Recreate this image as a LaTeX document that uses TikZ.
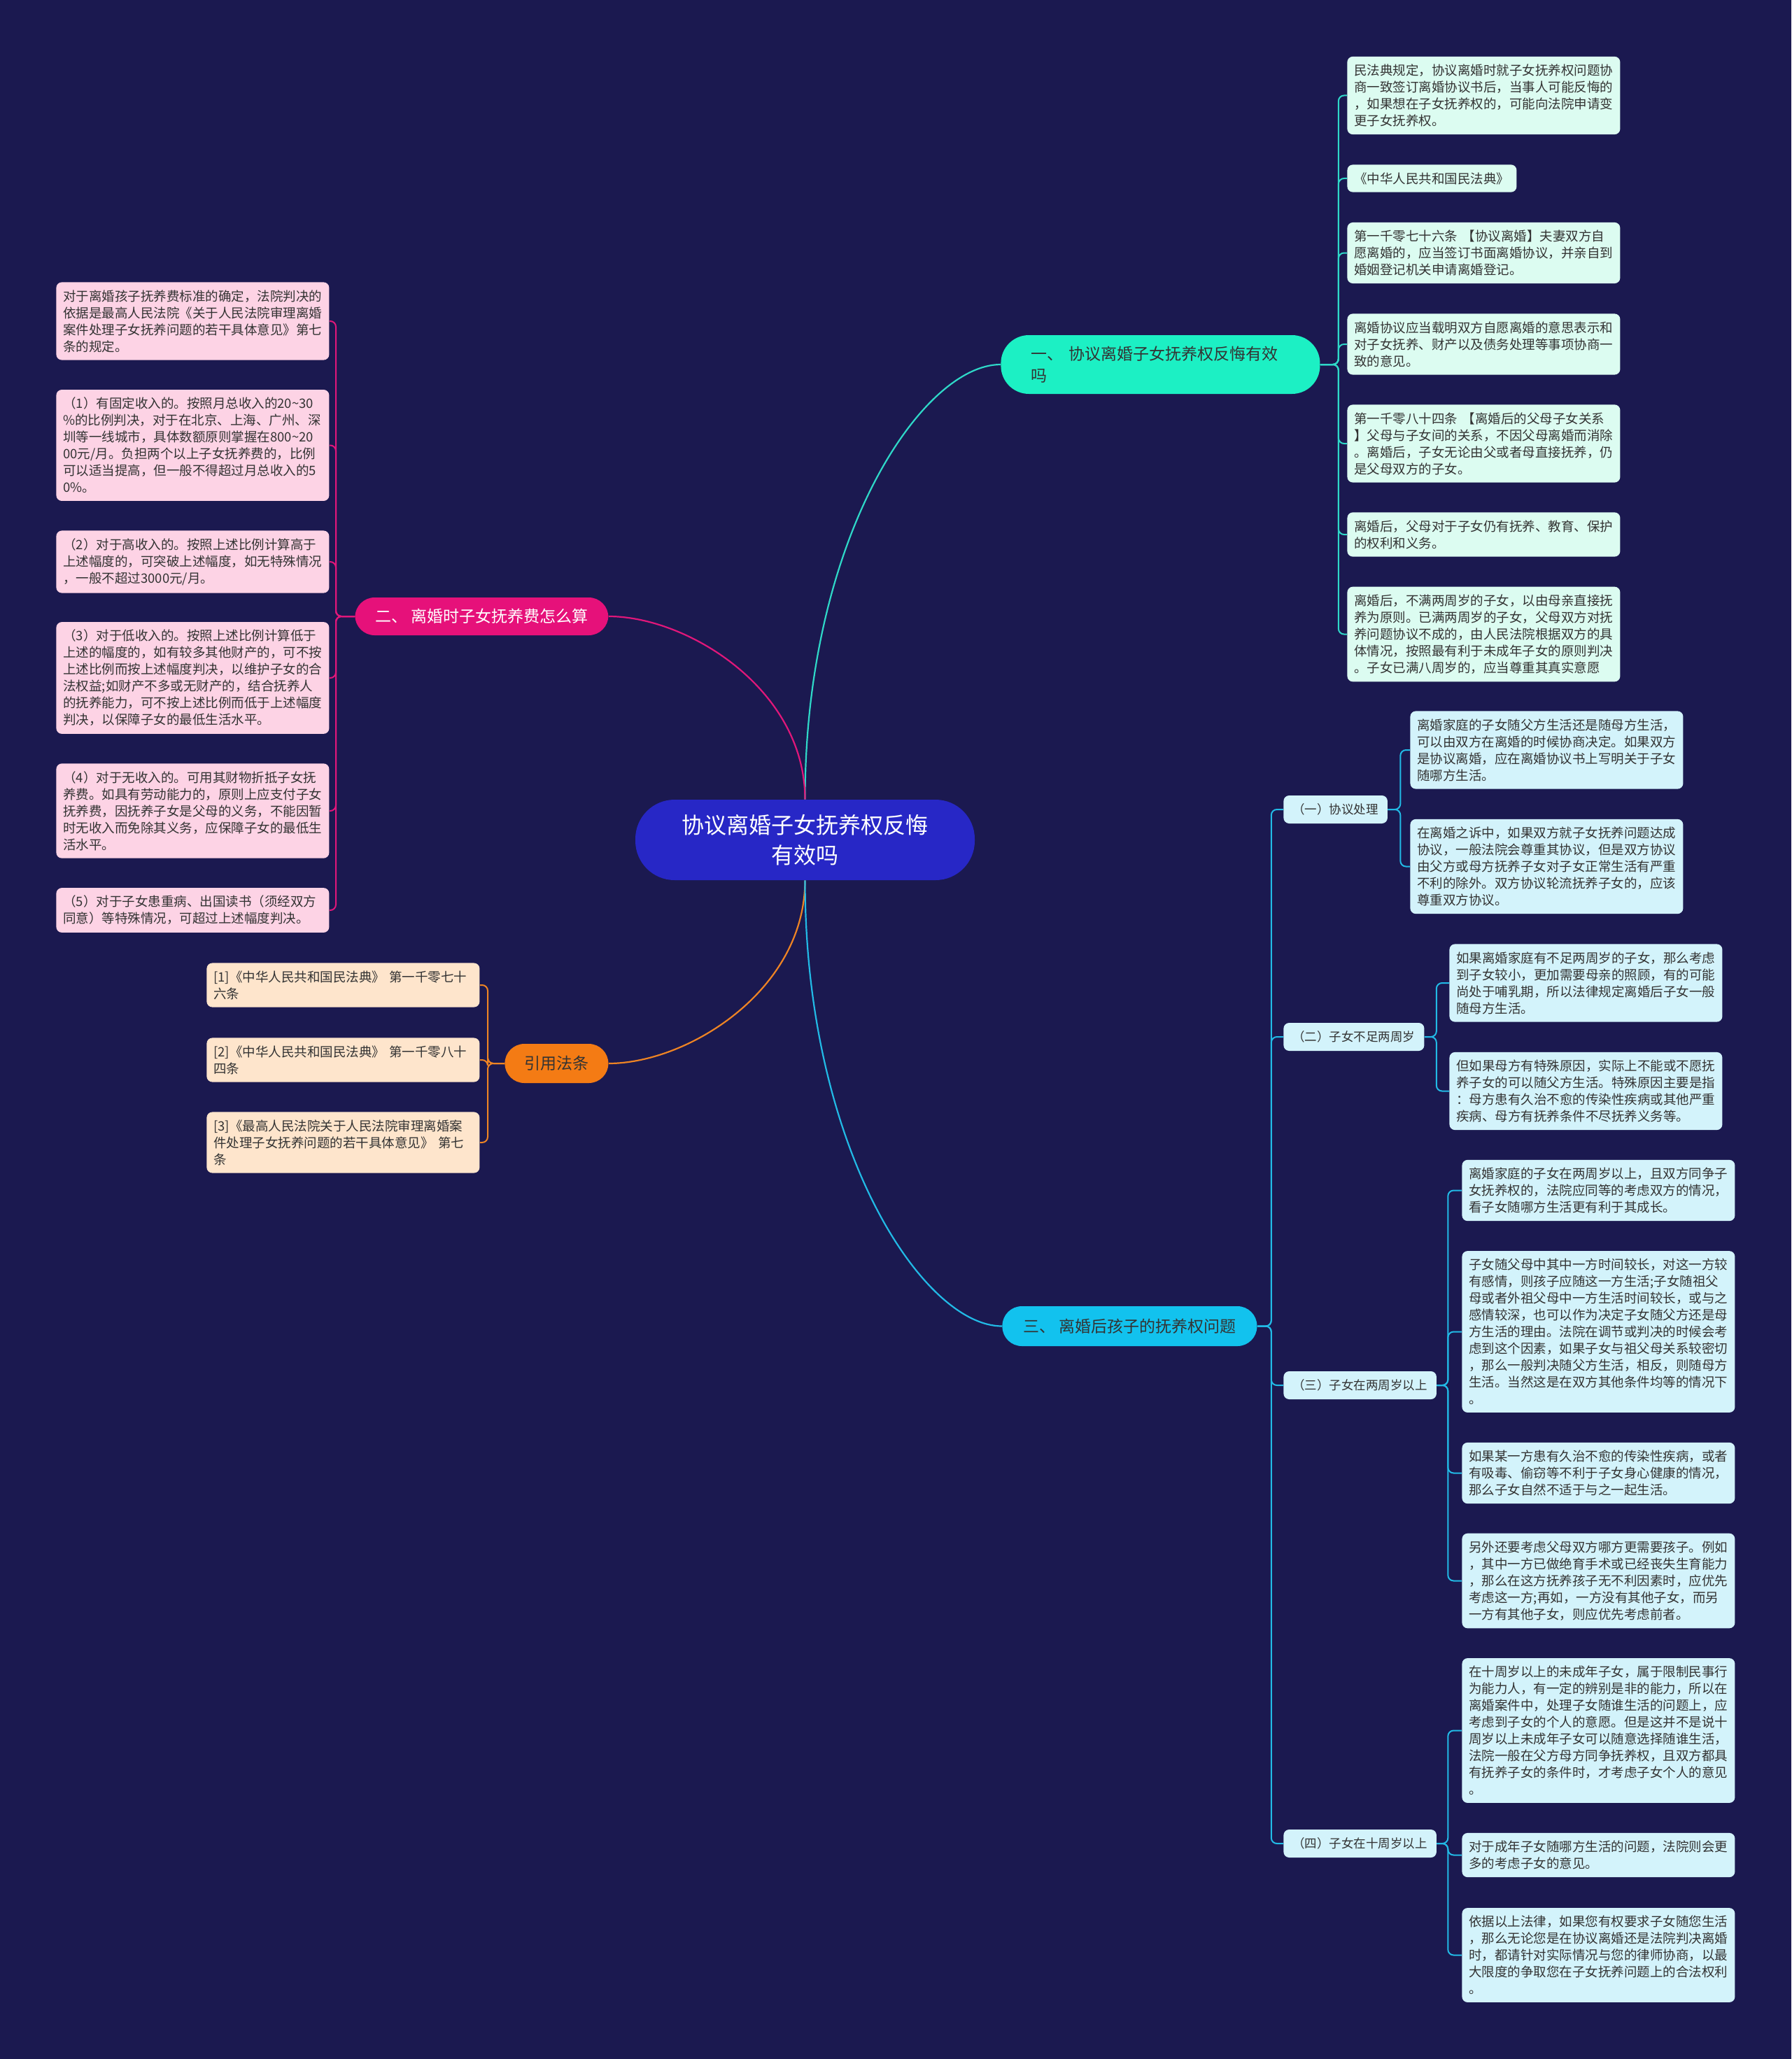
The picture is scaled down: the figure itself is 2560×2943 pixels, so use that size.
\documentclass[tikz,border=0pt]{standalone}
\usepackage{fontspec}
\setmainfont{Noto Sans CJK SC}
\usetikzlibrary{calc}
\definecolor{night}{HTML}{1B1950}
\definecolor{rootblue}{HTML}{2727C6}
\definecolor{aqua}{HTML}{1CF0C4}
\definecolor{aqualine}{HTML}{2FD8C8}
\definecolor{rose}{HTML}{E6117A}
\definecolor{roseline}{HTML}{E0177A}
\definecolor{amber}{HTML}{F47B14}
\definecolor{amberline}{HTML}{EE8424}
\definecolor{sky}{HTML}{12C2EE}
\definecolor{skyline}{HTML}{22BAE6}
\definecolor{mint}{HTML}{DCFCF1}
\definecolor{blush}{HTML}{FDD3E5}
\definecolor{peach}{HTML}{FEE5CC}
\definecolor{ice}{HTML}{D3F3FB}
\definecolor{ink}{HTML}{333333}

\begin{document}
\begin{tikzpicture}[x=0.5pt, y=-0.5pt,
  root/.style={fill=rootblue, text=white, rounded corners=28pt, minimum width=242.5pt, minimum height=57.5pt, align=center, font=\fontsize{16pt}{21.5pt}\selectfont},
  branch/.style={rounded corners=14pt, minimum height=28pt, inner xsep=9pt, anchor=west, font=\fontsize{11.5pt}{15pt}\selectfont},
  sub/.style={fill=ice, text=ink, rounded corners=4pt, minimum height=20pt, inner xsep=6.5pt, anchor=west, font=\fontsize{8.75pt}{11pt}\selectfont},
  leaf/.style={text=ink, rounded corners=4pt, text width=185pt, align=left, inner xsep=5pt, inner ysep=5.5pt, anchor=west, font=\fontsize{9.25pt}{12pt}\selectfont},
  link/.style={line width=1.1pt},
  twig/.style={line width=1pt, rounded corners=4pt}
]
  \useasboundingbox (0,0) rectangle (2560,2943);
  \fill[night] (0,0) rectangle (2560,2943);

  % centre
  \node[root] (root) at (1150.5,1200.5) {协议离婚子女抚养权反悔\\有效吗};

  % main branches
  \node[branch, fill=aqua, text=ink, text width=185pt, inner xsep=21.5pt, minimum height=42pt, rounded corners=20pt, align=left, font=\fontsize{11.5pt}{15.5pt}\selectfont] (one) at (1430,521) {一、 协议离婚子女抚养权反悔有效\\吗};
  \node[branch, fill=rose, text=white, minimum width=181pt, minimum height=27pt] (two) at (507,881) {二、 离婚时子女抚养费怎么算};
  \node[branch, fill=sky, text=ink, minimum width=182pt, minimum height=28.5pt] (three) at (1432,1895.5) {三、 离婚后孩子的抚养权问题};
  \node[branch, fill=amber, text=ink, minimum width=74pt] (cite) at (721,1520) {引用法条};

  \draw[link, aqualine] (root.north) .. controls +(0,-373) and +(-112,0) .. (one.west);
  \draw[link, roseline] (root.north) .. controls +(0,-157) and +(113,0) .. (two.east);
  \draw[link, amberline] (root.south) .. controls +(0,157) and +(113,0) .. (cite.east);
  \draw[link, skyline] (root.south) .. controls +(0,382) and +(-113,0) .. (three.west);

  % branch one
  \node[leaf, fill=mint] (m1) at (1925,136.5) {民法典规定，协议离婚时就子女抚养权问题协\\商一致签订离婚协议书后，当事人可能反悔的\\，如果想在子女抚养权的，可能向法院申请变\\更子女抚养权。};
  \node[leaf, fill=mint, text width=111pt] (m2) at (1925,255) {《中华人民共和国民法典》};
  \node[leaf, fill=mint] (m3) at (1925,361.5) {第一千零七十六条 【协议离婚】夫妻双方自\\愿离婚的，应当签订书面离婚协议，并亲自到\\婚姻登记机关申请离婚登记。};
  \node[leaf, fill=mint] (m4) at (1925,492) {离婚协议应当载明双方自愿离婚的意思表示和\\对子女抚养、财产以及债务处理等事项协商一\\致的意见。};
  \node[leaf, fill=mint] (m5) at (1925,634) {第一千零八十四条 【离婚后的父母子女关系\\】父母与子女间的关系，不因父母离婚而消除\\。离婚后，子女无论由父或者母直接抚养，仍\\是父母双方的子女。};
  \node[leaf, fill=mint] (m6) at (1925,764) {离婚后，父母对于子女仍有抚养、教育、保护\\的权利和义务。};
  \node[leaf, fill=mint] (m7) at (1925,906.5) {离婚后，不满两周岁的子女，以由母亲直接抚\\养为原则。已满两周岁的子女，父母双方对抚\\养问题协议不成的，由人民法院根据双方的具\\体情况，按照最有利于未成年子女的原则判决\\。子女已满八周岁的，应当尊重其真实意愿};
  \foreach \n in {m1,m2,m3,m4,m5,m6,m7}
    \draw[twig, aqualine] (one.east) -- ++(26,0) |- (\n.west);

  % branch two
  \node[leaf, fill=blush] (p1) at (80,459) {对于离婚孩子抚养费标准的确定，法院判决的\\依据是最高人民法院《关于人民法院审理离婚\\案件处理子女抚养问题的若干具体意见》第七\\条的规定。};
  \node[leaf, fill=blush] (p2) at (80,636.5) {（1）有固定收入的。按照月总收入的20\textasciitilde30\\\%的比例判决，对于在北京、上海、广州、深\\圳等一线城市，具体数额原则掌握在800\textasciitilde20\\00元/月。负担两个以上子女抚养费的，比例\\可以适当提高，但一般不得超过月总收入的5\\0\%。};
  \node[leaf, fill=blush] (p3) at (80,803) {（2）对于高收入的。按照上述比例计算高于\\上述幅度的，可突破上述幅度，如无特殊情况\\，一般不超过3000元/月。};
  \node[leaf, fill=blush] (p4) at (80,969) {（3）对于低收入的。按照上述比例计算低于\\上述的幅度的，如有较多其他财产的，可不按\\上述比例而按上述幅度判决，以维护子女的合\\法权益;如财产不多或无财产的，结合抚养人\\的抚养能力，可不按上述比例而低于上述幅度\\判决，以保障子女的最低生活水平。};
  \node[leaf, fill=blush] (p5) at (80,1159) {（4）对于无收入的。可用其财物折抵子女抚\\养费。如具有劳动能力的，原则上应支付子女\\抚养费，因抚养子女是父母的义务，不能因暂\\时无收入而免除其义务，应保障子女的最低生\\活水平。};
  \node[leaf, fill=blush] (p6) at (80,1301) {（5）对于子女患重病、出国读书（须经双方\\同意）等特殊情况，可超过上述幅度判决。};
  \foreach \n in {p1,p2,p3,p4,p5,p6}
    \draw[twig, roseline] (two.west) -- ++(-27,0) |- (\n.east);

  % citations
  \node[leaf, fill=peach] (c1) at (295,1408) {[1]《中华人民共和国民法典》 第一千零七十\\六条};
  \node[leaf, fill=peach] (c2) at (295,1515) {[2]《中华人民共和国民法典》 第一千零八十\\四条};
  \node[leaf, fill=peach] (c3) at (295,1633) {[3]《最高人民法院关于人民法院审理离婚案\\件处理子女抚养问题的若干具体意见》 第七\\条};
  \foreach \n in {c1,c2,c3}
    \draw[twig, amberline] (cite.west) -- ++(-24,0) |- (\n.east);

  % branch three
  \node[sub] (s1) at (1834,1157) {（一）协议处理};
  \node[sub] (s2) at (1834,1482) {（二）子女不足两周岁};
  \node[sub] (s3) at (1834,1980) {（三）子女在两周岁以上};
  \node[sub] (s4) at (1834,2635) {（四）子女在十周岁以上};
  \foreach \n in {s1,s2,s3,s4}
    \draw[twig, skyline] (three.east) -- ++(20,0) |- (\n.west);

  \node[leaf, fill=ice] (a1) at (2015,1072) {离婚家庭的子女随父方生活还是随母方生活，\\可以由双方在离婚的时候协商决定。如果双方\\是协议离婚，应在离婚协议书上写明关于子女\\随哪方生活。};
  \node[leaf, fill=ice] (a2) at (2015,1238.5) {在离婚之诉中，如果双方就子女抚养问题达成\\协议，一般法院会尊重其协议，但是双方协议\\由父方或母方抚养子女对子女正常生活有严重\\不利的除外。双方协议轮流抚养子女的，应该\\尊重双方协议。};
  \foreach \n in {a1,a2}
    \draw[twig, skyline] (s1.east) -- ++(18,0) |- (\n.west);

  \node[leaf, fill=ice] (b1) at (2071,1405) {如果离婚家庭有不足两周岁的子女，那么考虑\\到子女较小，更加需要母亲的照顾，有的可能\\尚处于哺乳期，所以法律规定离婚后子女一般\\随母方生活。};
  \node[leaf, fill=ice] (b2) at (2071,1559.5) {但如果母方有特殊原因，实际上不能或不愿抚\\养子女的可以随父方生活。特殊原因主要是指\\：母方患有久治不愈的传染性疾病或其他严重\\疾病、母方有抚养条件不尽抚养义务等。};
  \foreach \n in {b1,b2}
    \draw[twig, skyline] (s2.east) -- ++(17,0) |- (\n.west);

  \node[leaf, fill=ice] (t1) at (2089,1701.5) {离婚家庭的子女在两周岁以上，且双方同争子\\女抚养权的，法院应同等的考虑双方的情况，\\看子女随哪方生活更有利于其成长。};
  \node[leaf, fill=ice] (t2) at (2089,1903.5) {子女随父母中其中一方时间较长，对这一方较\\有感情，则孩子应随这一方生活;子女随祖父\\母或者外祖父母中一方生活时间较长，或与之\\感情较深，也可以作为决定子女随父方还是母\\方生活的理由。法院在调节或判决的时候会考\\虑到这个因素，如果子女与祖父母关系较密切\\，那么一般判决随父方生活，相反，则随母方\\生活。当然这是在双方其他条件均等的情况下\\。};
  \node[leaf, fill=ice] (t3) at (2089,2105.5) {如果某一方患有久治不愈的传染性疾病，或者\\有吸毒、偷窃等不利于子女身心健康的情况，\\那么子女自然不适于与之一起生活。};
  \node[leaf, fill=ice] (t4) at (2089,2259.5) {另外还要考虑父母双方哪方更需要孩子。例如\\，其中一方已做绝育手术或已经丧失生育能力\\，那么在这方抚养孩子无不利因素时，应优先\\考虑这一方;再如，一方没有其他子女，而另\\一方有其他子女，则应优先考虑前者。};
  \foreach \n in {t1,t2,t3,t4}
    \draw[twig, skyline] (s3.east) -- ++(16,0) |- (\n.west);

  \node[leaf, fill=ice] (f1) at (2089,2473.5) {在十周岁以上的未成年子女，属于限制民事行\\为能力人，有一定的辨别是非的能力，所以在\\离婚案件中，处理子女随谁生活的问题上，应\\考虑到子女的个人的意愿。但是这并不是说十\\周岁以上未成年子女可以随意选择随谁生活，\\法院一般在父方母方同争抚养权，且双方都具\\有抚养子女的条件时，才考虑子女个人的意见\\。};
  \node[leaf, fill=ice] (f2) at (2089,2651.5) {对于成年子女随哪方生活的问题，法院则会更\\多的考虑子女的意见。};
  \node[leaf, fill=ice] (f3) at (2089,2794.5) {依据以上法律，如果您有权要求子女随您生活\\，那么无论您是在协议离婚还是法院判决离婚\\时，都请针对实际情况与您的律师协商，以最\\大限度的争取您在子女抚养问题上的合法权利\\。};
  \foreach \n in {f1,f2,f3}
    \draw[twig, skyline] (s4.east) -- ++(16,0) |- (\n.west);
\end{tikzpicture}
\end{document}
